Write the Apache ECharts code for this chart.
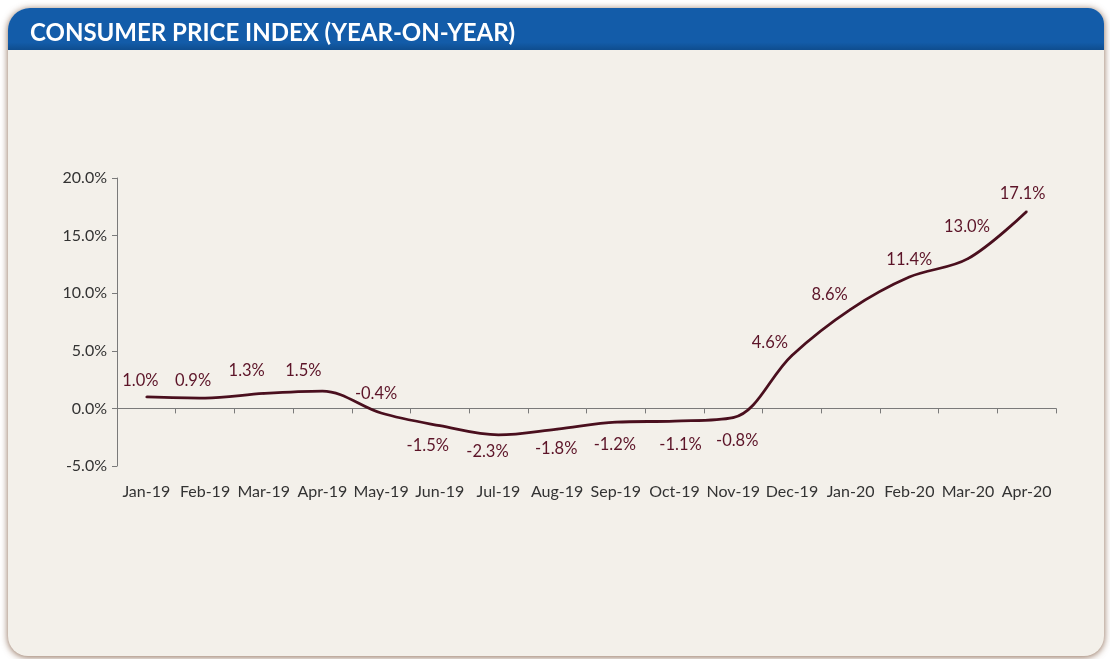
<!DOCTYPE html>
<html>
<head>
<meta charset="utf-8">
<script src="https://cdn.jsdelivr.net/npm/echarts@6/dist/echarts.min.js"></script>
<style>
  html, body { margin: 0; padding: 0; background: #ffffff; }
  body { width: 1110px; height: 659px; position: relative; overflow: hidden; }
  .card {
    position: absolute; left: 8px; top: 8px; width: 1096px; height: 648px;
    background: #f3f0ea; border-radius: 22px 16px 20px 20px;
    box-shadow: 0 1px 7px rgba(100, 55, 25, 0.75);
  }
  .head {
    position: absolute; left: 0; top: 0; width: 100%; height: 42px;
    background: linear-gradient(#135ca9 0%, #135ca9 82%, #0f4d8e 100%);
    border-radius: 22px 16px 0 0;
  }
  #chart { position: absolute; left: 0; top: 0; width: 1110px; height: 659px; }
</style>
</head>
<body>
<div class="card"><div class="head"></div></div>
<div id="chart"></div>
<script>
// Monthly CPI, year-on-year change (%)
const months = ['Jan-19', 'Feb-19', 'Mar-19', 'Apr-19', 'May-19', 'Jun-19', 'Jul-19', 'Aug-19',
  'Sep-19', 'Oct-19', 'Nov-19', 'Dec-19', 'Jan-20', 'Feb-20', 'Mar-20', 'Apr-20']
const cpiYoY = [1.0, 0.9, 1.3, 1.5, -0.4, -1.5, -2.3, -1.8, -1.2, -1.1, -0.8, 4.6, 8.6, 11.4, 13.0, 17.1]
const yTicks = { min: -5, max: 20, step: 5 }

// label nudges to mimic the original label placement
const labelNudge = [[-6, -2], [-12, -3], [-17, -8], [-19, -6], [-5, -5], [-12, 5], [-11, 2], [-1, 5],
  [-1, 8], [6, 9], [4, 9], [-22, 2], [-21, 0], [0, -3], [-1, -17], [-4, -3]]

const font = 'Lato, "Open Sans", sans-serif'
const lineColor = '#4a0f1e'
const labelColor = '#5c1428'

const chart = echarts.init(document.getElementById('chart'))

const option = {
  backgroundColor: 'transparent',
  animation: false,
  title: {
    text: 'CONSUMER PRICE INDEX (YEAR-ON-YEAR)',
    left: 25,
    top: 16,
    textStyle: { color: '#ffffff', fontSize: 24, fontWeight: 'bold', fontFamily: font },
  },
  grid: { left: 117, right: 54, top: 178, bottom: 193 },
  xAxis: [
    {
      type: 'category',
      data: months,
      axisLine: { onZero: true, lineStyle: { color: '#7a7a7a', width: 1 } },
      axisTick: { show: true, length: 5, lineStyle: { color: '#7a7a7a' } },
      axisLabel: { show: false },
    },
    {
      type: 'category',
      data: months,
      position: 'bottom',
      axisLine: { show: false, onZero: false },
      axisTick: { show: false },
      axisLabel: { interval: 0, margin: 18, color: '#333333', fontSize: 16, fontFamily: font },
    },
  ],
  yAxis: {
    type: 'value',
    min: yTicks.min,
    max: yTicks.max,
    interval: yTicks.step,
    axisLine: { show: true, lineStyle: { color: '#7a7a7a', width: 1 } },
    axisTick: { show: true, length: 5, lineStyle: { color: '#7a7a7a' } },
    splitLine: { show: false },
    axisLabel: {
      margin: 10,
      color: '#333333',
      fontSize: 16,
      fontFamily: font,
      formatter: v => v.toFixed(1) + '%',
    },
  },
  series: [
    {
      type: 'line',
      xAxisIndex: 0,
      smooth: 0.35,
      symbol: 'circle',
      symbolSize: 2,
      itemStyle: { color: lineColor },
      lineStyle: { color: lineColor, width: 2.8 },
      data: cpiYoY.map((v, i) => ({
        value: v,
        label: {
          position: v < 0 && i !== 4 ? 'bottom' : 'top',
          offset: labelNudge[i],
        },
      })),
      label: {
        show: true,
        color: labelColor,
        fontSize: 16.5,
        fontFamily: font,
        formatter: p => p.value.toFixed(1) + '%',
      },
    },
  ],
}

chart.setOption(option)
</script>
</body>
</html>
